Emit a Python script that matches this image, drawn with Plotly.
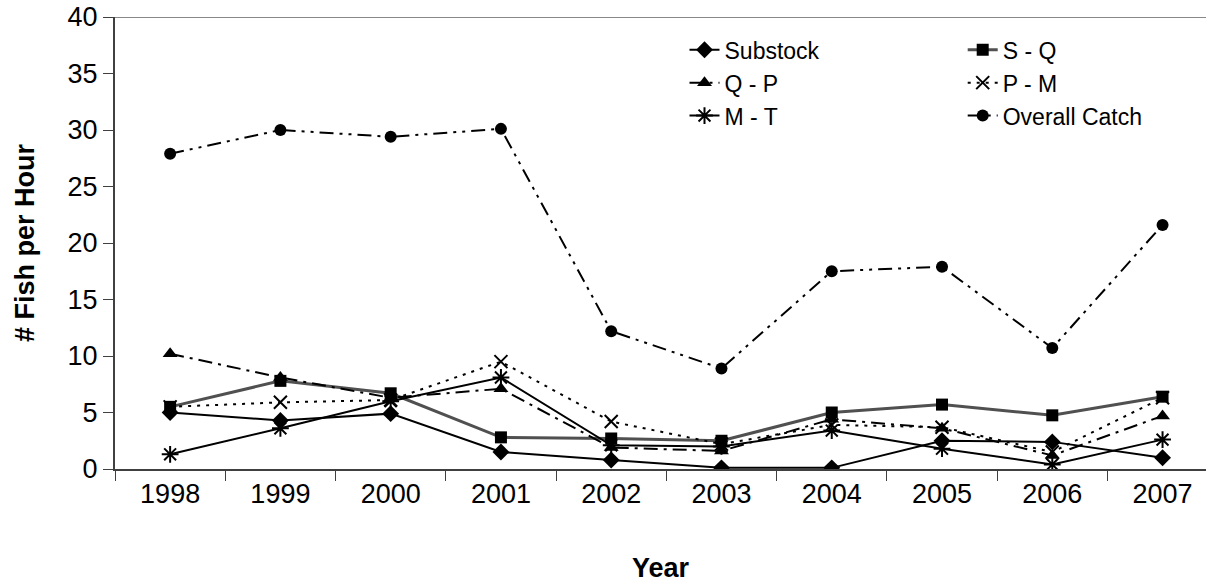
import plotly.graph_objects as go

years = ["1998", "1999", "2000", "2001", "2002", "2003", "2004", "2005", "2006", "2007"]
substock = [5.0, 4.3, 4.9, 1.5, 0.8, 0.1, 0.1, 2.5, 2.4, 1.0]
s_q = [5.5, 7.8, 6.7, 2.8, 2.7, 2.5, 5.0, 5.7, 4.75, 6.4]
q_p = [10.2, 8.1, 6.3, 7.1, 1.9, 1.6, 4.4, 3.6, 1.2, 4.7]
p_m = [5.5, 5.9, 6.1, 9.5, 4.2, 2.2, 3.9, 3.7, 1.5, 6.3]
m_t = [1.3, 3.6, 6.0, 8.1, 2.1, 2.0, 3.4, 1.8, 0.4, 2.6]
overall = [27.9, 30.0, 29.4, 30.1, 12.2, 8.9, 17.5, 17.9, 10.7, 21.6]

FONT = "Liberation Sans, Arial, sans-serif"

series = [
    # name, values, line color, width, dash, symbol, size, legend
    ("Substock", substock, "black", 2, "solid", "diamond", 13, "legend"),
    ("S - Q", s_q, "#505050", 3, "solid", "square", 12, "legend2"),
    ("Q - P", q_p, "black", 2, "14px,6px,3px,6px", "triangle-up", 13, "legend"),
    ("P - M", p_m, "black", 2, "3px,6px", "x-thin-open", 13, "legend2"),
    ("M - T", m_t, "black", 2, "solid", "asterisk-open", 14, "legend"),
    ("Overall Catch", overall, "black", 2, "14px,6px,3px,6px,3px,6px", "circle", 12, "legend2"),
]

fig = go.Figure()
for name, vals, col, w, dash, sym, size, leg in series:
    open_sym = sym.endswith("open")
    fig.add_trace(go.Scatter(
        x=years, y=vals, name=name, mode="lines+markers",
        line=dict(color=col, width=w, dash=dash),
        marker=dict(symbol=sym, size=size, color="black",
                    line=dict(color="black", width=2 if open_sym else 0)),
        legend=leg,
    ))

legend_common = dict(
    font=dict(family=FONT, size=23, color="black"),
    bgcolor="rgba(0,0,0,0)",
    yanchor="top", xanchor="left",
    tracegroupgap=0,
)

fig.update_layout(
    width=1206, height=583,
    margin=dict(l=115, r=0, t=17, b=114),
    paper_bgcolor="white", plot_bgcolor="white",
    font=dict(family=FONT, color="black"),
    showlegend=True,
    legend=dict(x=0.522, y=0.975, **legend_common),
    legend2=dict(x=0.777, y=0.975, **legend_common),
    xaxis=dict(
        type="category",
        range=[-0.5, 9.394],
        automargin=False,
        showline=True, linecolor="#404040", linewidth=2,
        ticks="outside", ticklen=10, tickcolor="#404040", tickwidth=1,
        tickson="boundaries",
        showgrid=False, zeroline=False,
        tickfont=dict(family=FONT, size=27, color="black"),
        title=dict(text="<b>Year</b>", font=dict(family=FONT, size=27, color="black"), standoff=51),
    ),
    yaxis=dict(
        range=[0, 40], dtick=5,
        automargin=False,
        ticklabeloverflow="allow",
        showline=True, linecolor="#404040", linewidth=2,
        ticks="outside", ticklen=10, tickcolor="#404040", tickwidth=1,
        showgrid=False, zeroline=False,
        tickfont=dict(family=FONT, size=27, color="black"),
        title=dict(text="<b># Fish per Hour</b>", font=dict(family=FONT, size=27, color="black"), standoff=25),
    ),
    shapes=[dict(type="line", xref="paper", yref="y", x0=0, x1=1, y0=40, y1=40,
                 line=dict(color="#888888", width=2), layer="below")],
)

# remove the default page margin so the figure fills the 1206x583 window exactly
fig.write_html("out.html", config={"displayModeBar": False},
               post_script="document.body.style.margin='0';")
